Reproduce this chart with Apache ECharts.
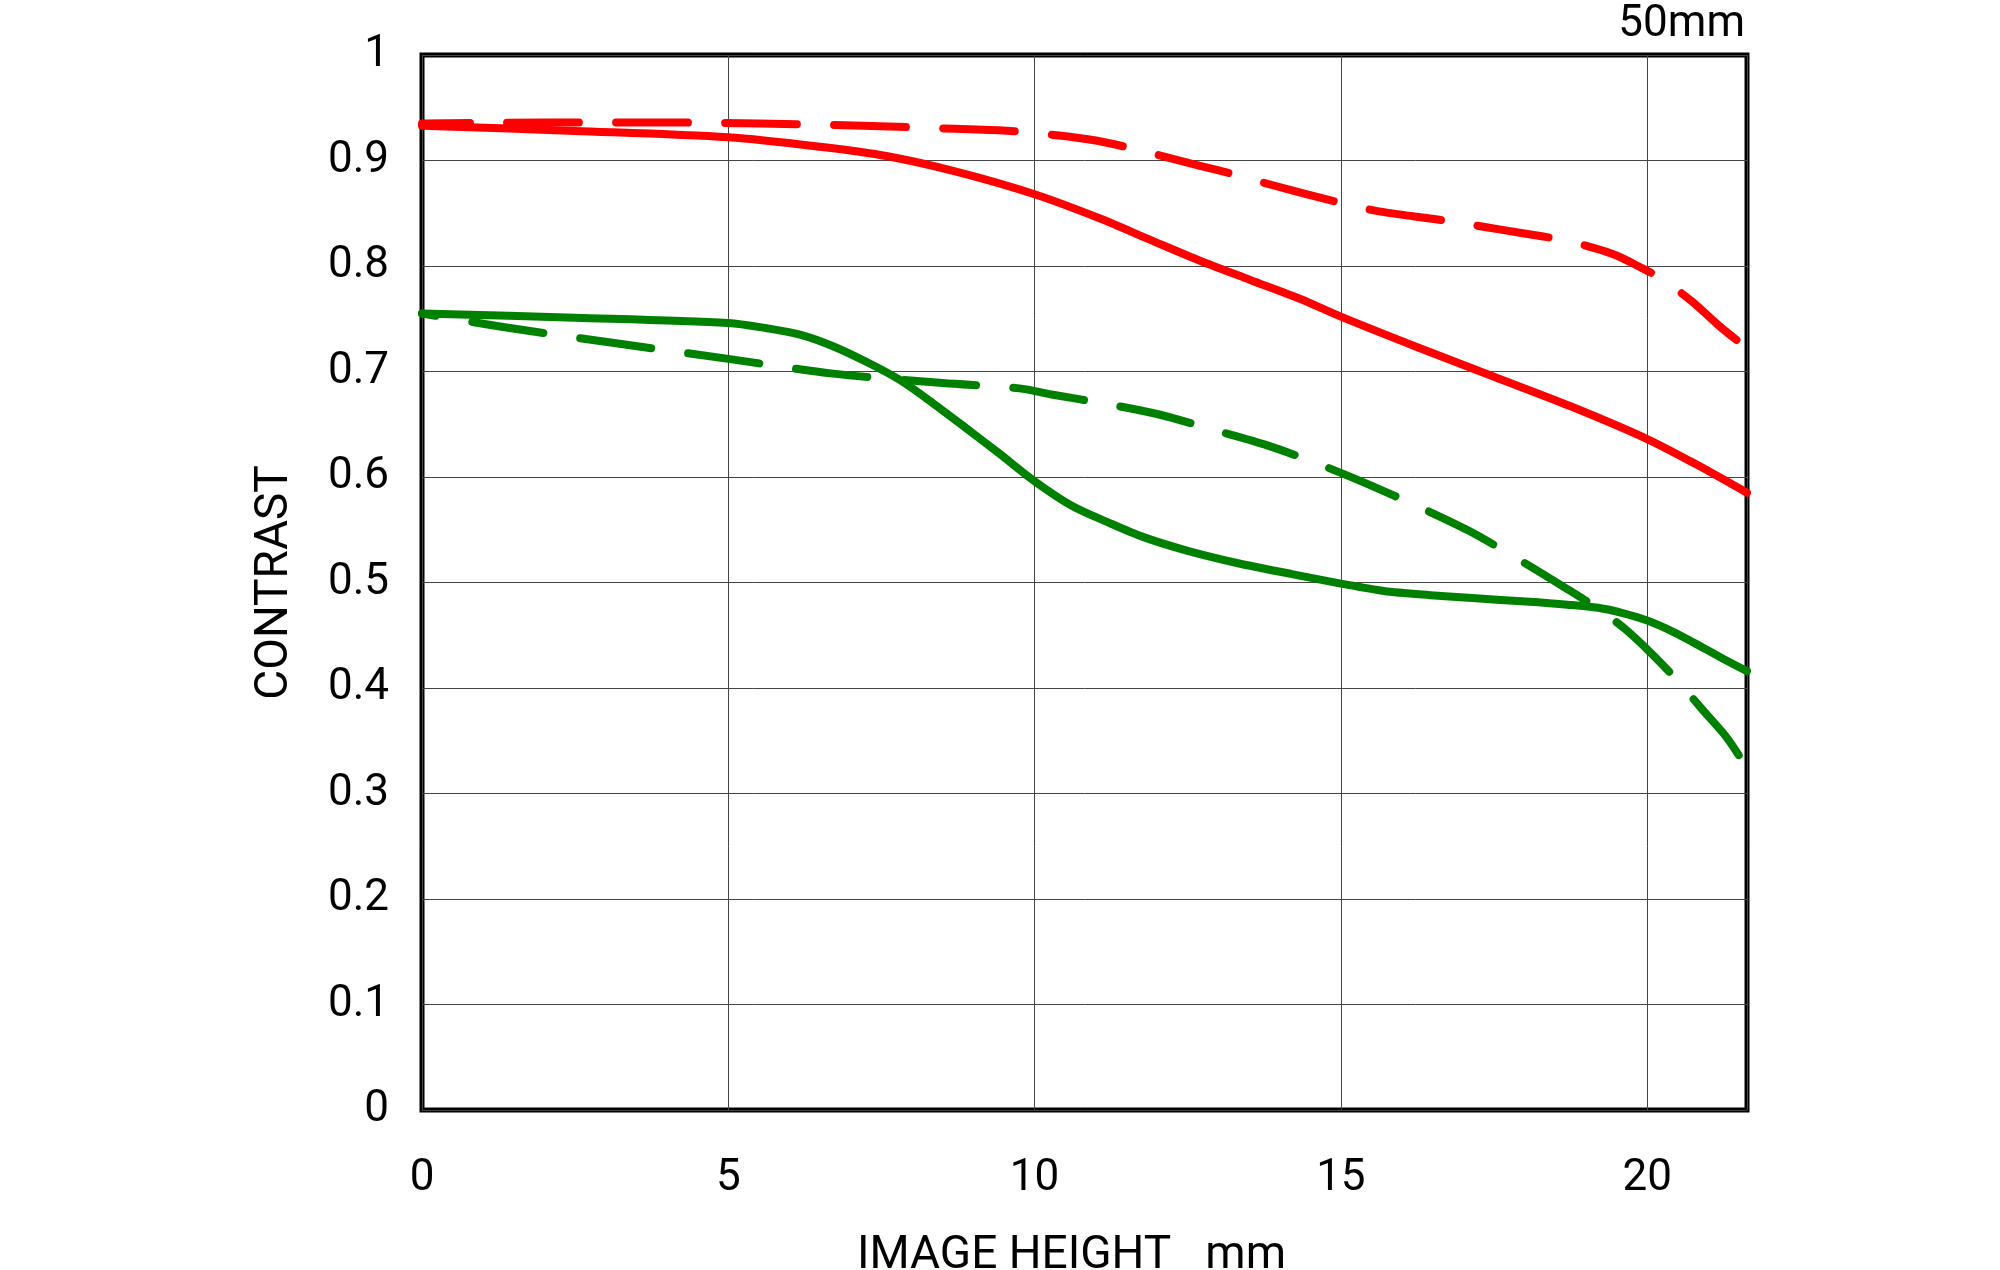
<!DOCTYPE html>
<html>
<head>
<meta charset="utf-8">
<script src="https://cdn.jsdelivr.net/npm/echarts@6/dist/echarts.min.js"></script>
<style>
html,body{margin:0;padding:0;background:#fff;overflow:hidden;}
#chart{width:2000px;height:1270px;}
</style>
</head>
<body>
<div id="chart"></div>
<script>
// Image height (mm) and contrast values
const redSolidX = [0, 2.5, 5, 6.5, 7.6, 8.75, 10, 11.07, 11.88, 12.7, 13.51, 14.33, 15, 16.25, 17.5, 18.75, 20, 20.8, 21.63];
const redSolidY = [0.933, 0.928, 0.922, 0.913, 0.904, 0.889, 0.868, 0.845, 0.825, 0.805, 0.787, 0.769, 0.752, 0.723, 0.695, 0.667, 0.636, 0.612, 0.585];

const redDashX = [0, 2, 4, 5.5, 7.2, 8.7, 9.6, 10.36, 11.0, 11.55, 12.1, 12.7, 13.31, 13.86, 14.45, 15.06, 15.6, 16.2, 16.84, 17.35, 17.97, 18.59, 19.14, 19.5, 19.85, 20.23, 20.74, 21.18, 21.63];
const redDashY = [0.935, 0.936, 0.936, 0.935, 0.933, 0.930, 0.928, 0.924, 0.919, 0.912, 0.904, 0.895, 0.886, 0.877, 0.868, 0.859, 0.852, 0.847, 0.842, 0.837, 0.831, 0.825, 0.817, 0.810, 0.800, 0.788, 0.766, 0.743, 0.722];

const greenSolidX = [0, 2.5, 5, 5.63, 6.17, 6.71, 7.26, 7.8, 8.34, 8.89, 9.43, 10, 10.6, 11.2, 11.78, 12.5, 13.34, 14.2, 15, 15.7, 16.46, 17.2, 18.02, 18.7, 19.2, 19.6, 20, 20.4, 20.76, 21.2, 21.63];
const greenSolidY = [0.755, 0.751, 0.746, 0.741, 0.735, 0.724, 0.709, 0.692, 0.670, 0.646, 0.622, 0.596, 0.573, 0.557, 0.543, 0.530, 0.518, 0.508, 0.499, 0.492, 0.488, 0.485, 0.482, 0.479, 0.476, 0.471, 0.464, 0.454, 0.443, 0.429, 0.416];

const greenDashX = [0, 1.35, 3.14, 5.0, 6.71, 8.5, 9.75, 10.3, 11.2, 12.05, 12.9, 13.8, 14.65, 15.45, 16.3, 17.09, 17.9, 18.69, 19.2, 19.66, 20.1, 20.48, 20.91, 21.3, 21.63];
const greenDashY = [0.755, 0.742, 0.727, 0.712, 0.698, 0.689, 0.684, 0.678, 0.669, 0.659, 0.645, 0.630, 0.612, 0.593, 0.571, 0.549, 0.522, 0.494, 0.475, 0.455, 0.431, 0.408, 0.379, 0.353, 0.324];

const xTicks = [0, 5, 10, 15, 20];
const yTicks = [0, 0.1, 0.2, 0.3, 0.4, 0.5, 0.6, 0.7, 0.8, 0.9, 1];
const xMax = 21.63;
const titleText = '50mm';
const xName = 'IMAGE HEIGHT   mm';
const yName = 'CONTRAST';

const zip = (xs, ys) => xs.map((x, i) => [x, ys[i]]);
const FONT = 'Roboto';

const chart = echarts.init(document.getElementById('chart'), null, {renderer: 'canvas'});

function mkSeries(name, xs, ys, color, dashed, offset) {
  return {
    name: name,
    type: 'line',
    data: zip(xs, ys),
    smooth: 0.3,
    showSymbol: false,
    symbol: 'none',
    clip: true,
    lineStyle: {
      color: color,
      width: 8,
      type: dashed ? [72, 37] : 'solid',
      dashOffset: offset || 0,
      cap: 'round',
      join: 'round'
    },
    emphasis: {disabled: true},
    z: 3
  };
}

chart.setOption({
  animation: false,
  backgroundColor: '#ffffff',
  title: {
    text: titleText,
    right: 255,
    top: 3,
    padding: 0,
    textStyle: {fontFamily: FONT, fontSize: 44, fontWeight: 'normal', color: '#000'}
  },
  grid: {
    left: 422, right: 253, top: 55, bottom: 160,
    containLabel: false,
    outerBoundsMode: 'none',
    show: true,
    borderColor: '#000',
    borderWidth: 5,
    backgroundColor: 'transparent'
  },
  xAxis: {
    type: 'value',
    min: 0,
    max: xMax,
    interval: 5,
    name: xName,
    nameLocation: 'middle',
    nameGap: 123,
    nameTextStyle: {fontFamily: FONT, fontSize: 46, color: '#000', padding: [0, 26, 0, 0]},
    axisLine: {show: false},
    axisTick: {show: false},
    axisLabel: {
      fontFamily: FONT, fontSize: 44, color: '#000', margin: 47,
      showMaxLabel: false,
      formatter: v => (xTicks.indexOf(v) >= 0 ? String(v) : '')
    },
    splitLine: {show: true, lineStyle: {color: '#444', width: 1}}
  },
  yAxis: {
    type: 'value',
    min: 0,
    max: 1,
    interval: 0.1,
    name: yName,
    nameLocation: 'middle',
    nameGap: 124,
    nameRotate: 90,
    nameTextStyle: {fontFamily: FONT, fontSize: 46, color: '#000'},
    axisLine: {show: false},
    axisTick: {show: false},
    axisLabel: {
      fontFamily: FONT, fontSize: 44, color: '#000', margin: 33,
      formatter: v => {
        const t = yTicks.find(k => Math.abs(k - v) < 1e-6);
        return t === undefined ? '' : String(+t.toFixed(1));
      }
    },
    splitLine: {show: true, lineStyle: {color: '#444', width: 1}}
  },
  series: [
    mkSeries('red solid', redSolidX, redSolidY, '#ff0000', false),
    mkSeries('red dashed', redDashX, redDashY, '#ff0000', true, 24),
    mkSeries('green solid', greenSolidX, greenSolidY, '#008000', false),
    mkSeries('green dashed', greenDashX, greenDashY, '#008000', true, 58)
  ]
});
</script>
</body>
</html>
